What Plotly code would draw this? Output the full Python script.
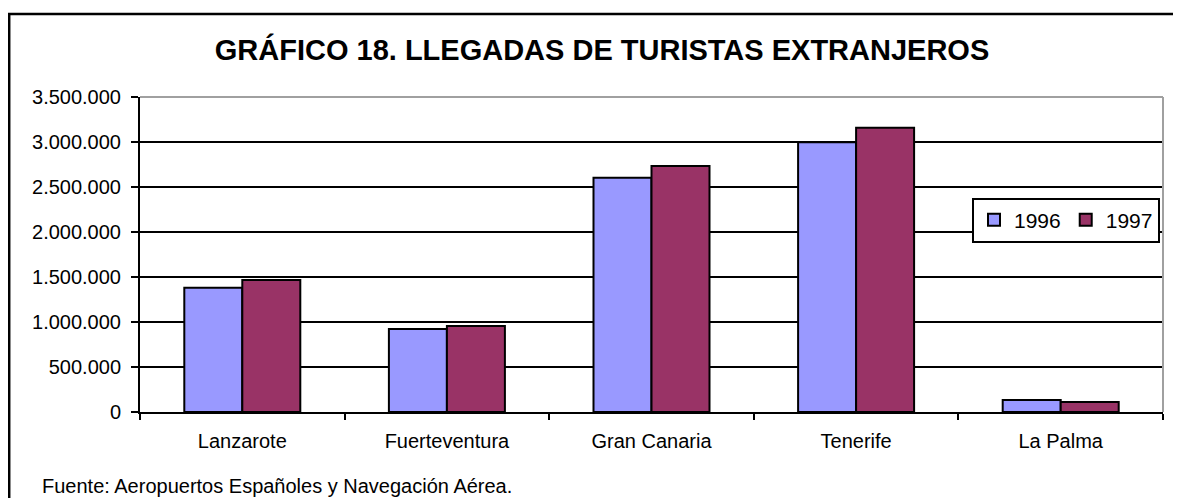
import plotly.graph_objects as go

# Datos
islas = ['Lanzarote', 'Fuerteventura', 'Gran Canaria', 'Tenerife', 'La Palma']
llegadas_1996 = [1381000, 922000, 2603000, 2997000, 133000]
llegadas_1997 = [1467000, 956000, 2733000, 3159000, 111000]
y_ticks = [0, 500000, 1000000, 1500000, 2000000, 2500000, 3000000, 3500000]
y_tick_labels = ['0', '500.000', '1.000.000', '1.500.000', '2.000.000',
                 '2.500.000', '3.000.000', '3.500.000']

FONT = 'Arial, Liberation Sans, sans-serif'

# La pagina tiene 8px de margen, asi que la figura es algo mas pequena
OFF = 8
W, H = 1181 - OFF, 498 - OFF
L, R, T, B = 132, 18, 89, 86
pw = W - L - R
ph = H - T - B


# Convierte pixeles de pantalla a coordenadas 'paper'
def px_x(x):
    return (x - OFF - L) / pw


def px_y(y):
    return (H - B - (y - OFF)) / ph


fig = go.Figure()
fig.add_trace(go.Bar(x=islas, y=llegadas_1996, name='1996',
                     marker=dict(color='#9999ff', line=dict(color='black', width=2))))
fig.add_trace(go.Bar(x=islas, y=llegadas_1997, name='1997',
                     marker=dict(color='#993366', line=dict(color='black', width=2))))

fig.update_layout(
    width=W, height=H,
    margin=dict(l=L, r=R, t=T, b=B),
    paper_bgcolor='white', plot_bgcolor='white',
    font=dict(family=FONT, color='black', size=20),
    barmode='group', bargap=0.433, bargroupgap=0,
    title=dict(text='<b>GRÁFICO 18. LLEGADAS DE TURISTAS EXTRANJEROS</b>',
               font=dict(family=FONT, size=29, color='black'),
               x=px_x(602), xref='paper', xanchor='center',
               y=1 - (50 - OFF) / H, yanchor='middle'),
    legend=dict(orientation='h', x=px_x(1066), y=px_y(220),
                xanchor='center', yanchor='middle',
                bgcolor='white', bordercolor='black', borderwidth=2,
                font=dict(size=21), itemwidth=30, tracegroupgap=0),
    xaxis=dict(showline=True, linecolor='black', linewidth=2,
               ticks='outside', tickson='boundaries', ticklen=6,
               tickwidth=2, tickcolor='black', showgrid=False,
               ticklabelstandoff=10),
    yaxis=dict(range=[0, 3500000], tickvals=y_ticks, ticktext=y_tick_labels,
               showline=True, linecolor='black', linewidth=2,
               ticks='outside', ticklen=7, tickwidth=2, tickcolor='black',
               showgrid=True, gridcolor='black', gridwidth=1.5,
               zeroline=False, ticklabelstandoff=6),
)

# Borde gris arriba y a la derecha del area de trazado
fig.add_shape(type='line', xref='paper', yref='paper', x0=0, x1=1, y0=1, y1=1,
              line=dict(color='#a0a0a0', width=2), layer='above')
fig.add_shape(type='line', xref='paper', yref='paper', x0=1, x1=1, y0=0, y1=1,
              line=dict(color='#a0a0a0', width=2), layer='above')

# Marco exterior del grafico
fig.add_shape(type='rect', xref='paper', yref='paper',
              x0=px_x(9.2), x1=px_x(1195), y0=px_y(14), y1=px_y(510),
              line=dict(color='black', width=2.5), layer='below')

fig.add_annotation(text='Fuente: Aeropuertos Españoles y Navegación Aérea.',
                   xref='paper', yref='paper', x=px_x(40), y=px_y(486),
                   xanchor='left', yanchor='middle', showarrow=False,
                   font=dict(family=FONT, size=20, color='black'))

fig.write_html('out.html')
